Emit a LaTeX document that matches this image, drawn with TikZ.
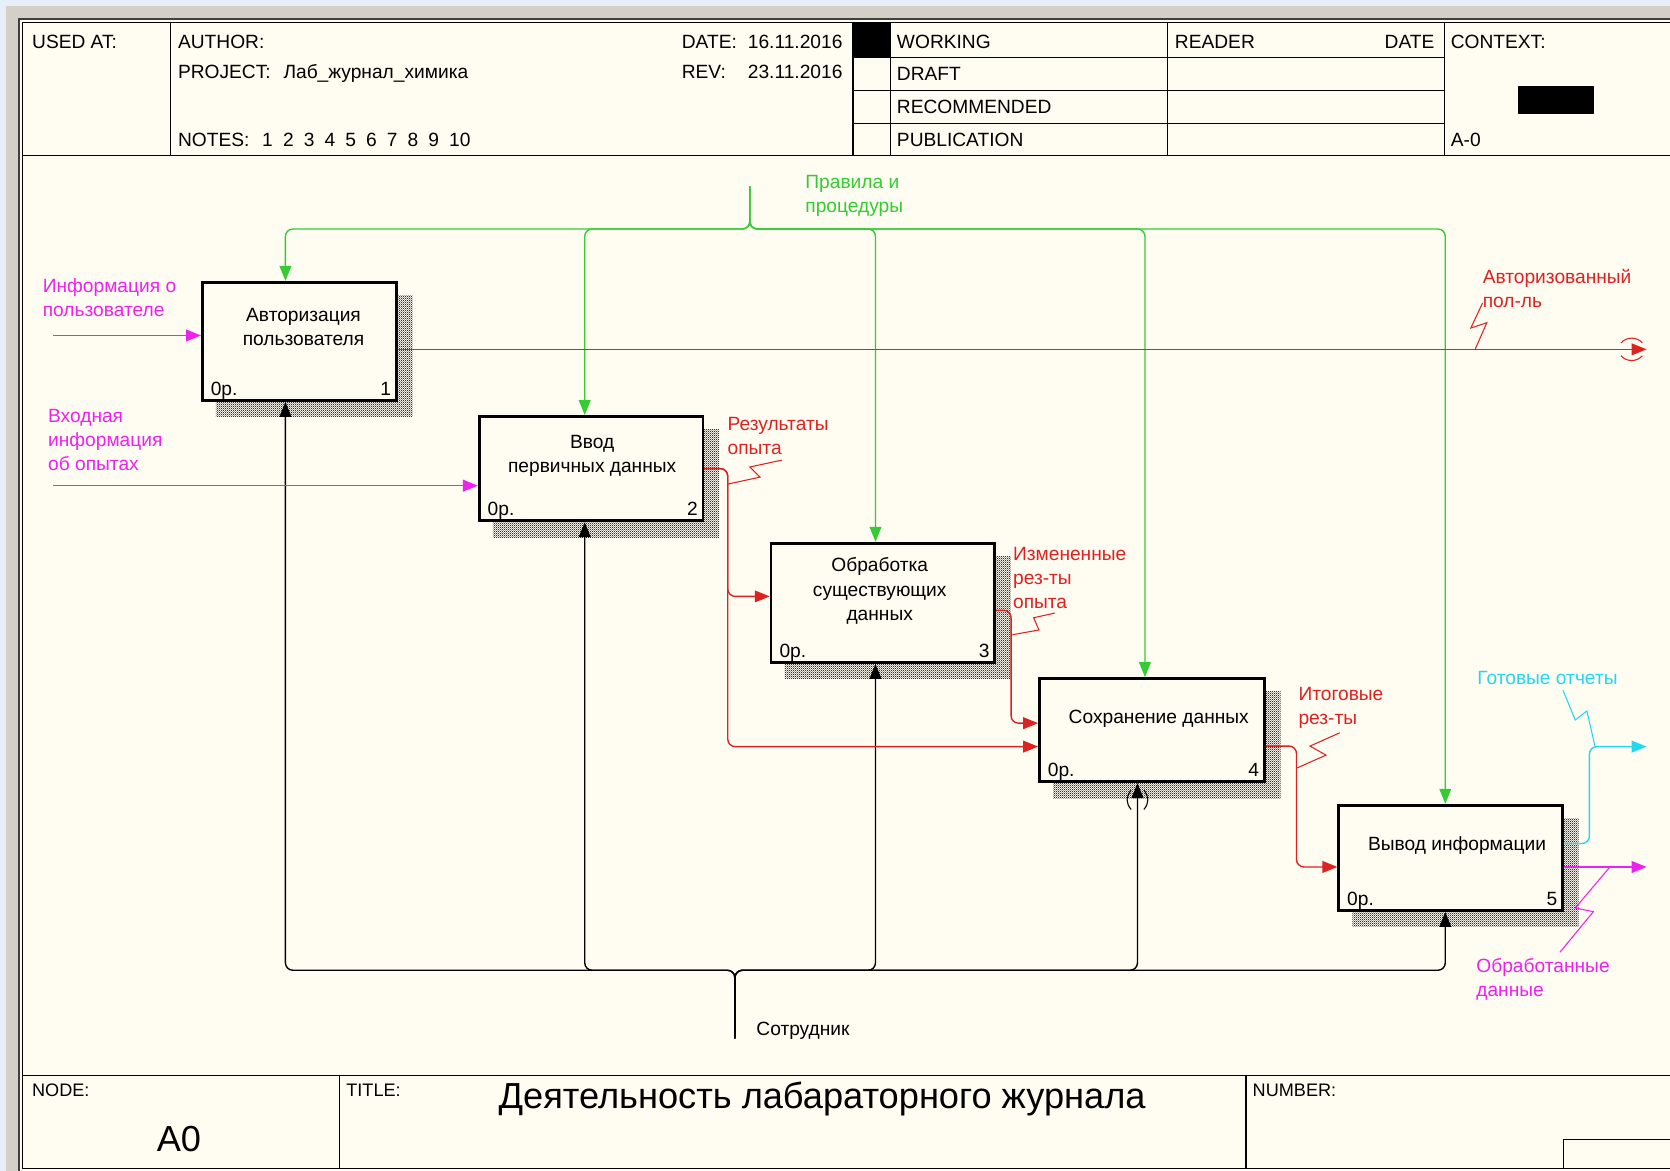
\documentclass[tikz,border=0pt]{standalone}
\usepackage{fontspec}
\setmainfont{Liberation Sans}
\usepackage{tikz}
\usetikzlibrary{arrows.meta, positioning, backgrounds, patterns}
\definecolor{paper}{HTML}{FFFCF2}
\definecolor{skyback}{HTML}{E6EEF8}
\definecolor{winframe}{HTML}{D4D0C8}
\definecolor{idefgreen}{HTML}{33CC33}
\definecolor{idefred}{HTML}{DD2222}
\definecolor{idefmagenta}{HTML}{EE22EE}
\definecolor{idefcyan}{HTML}{22D8EE}
\pgfdeclarepatternformonly{finecheck}{\pgfpointorigin}{\pgfqpoint{2pt}{2pt}}{\pgfqpoint{2pt}{2pt}}{%
  \pgfpathrectangle{\pgfpointorigin}{\pgfqpoint{1pt}{1pt}}%
  \pgfpathrectangle{\pgfqpoint{1pt}{1pt}}{\pgfqpoint{1pt}{1pt}}%
  \pgfusepath{fill}}

\begin{document}
\begin{tikzpicture}[
  x=1pt, y=-1pt,
  every node/.style={font=\fontsize{18}{22.5}\selectfont, inner sep=0pt},
  func/.style={draw, line width=2.6pt, fill=paper},
  functext/.style={align=center, font=\fontsize{18}{23}\selectfont},
  hdr/.style={anchor=base west},
  cost/.style={anchor=base west},
  fnum/.style={anchor=base east},
  arrowlabel/.style={anchor=north west, align=left, text=#1},
  flow/.style={
    -{Triangle[length=14pt, width=11pt]}, line width=1.3pt,
    color=#1, rounded corners=7pt
  },
  squiggle/.style={line width=1pt, color=#1},
  frameline/.style={line width=1.3pt}
]
\useasboundingbox (0,0) rectangle (1568,1099);

% window and sheet
\begin{scope}[on background layer]
  \fill[skyback] (0,0) rectangle (1568,1099);
  \fill[winframe] (6,6) rectangle (1568,1099);
  \fill[paper] (19,19) rectangle (1568,1099);
  \draw[line width=2pt, black!75] (18,1099) -- (18,18) -- (1568,18);
\end{scope}

% header
\draw[frameline] (21,21) -- (1570,21);
\draw[frameline] (21,21) -- (21,1097) -- (1570,1097);
\draw[frameline] (21,146) -- (1570,146);
\foreach \xx in {160,801,836,1096,1356}
  \draw[frameline] (\xx,21) -- (\xx,146);
\foreach \yy in {54,85,116}
  \draw[frameline] (801,\yy) -- (1356,\yy);
\fill (801,21) rectangle (836,54);
\fill (1425,81) rectangle (1497,107);

\node[hdr] at (30,45.5) {USED AT:};
\node[hdr] at (167,45.5) {AUTHOR:};
\node[hdr] at (167,73.5) {PROJECT:\hspace{12pt}Лаб\_журнал\_химика};
\node[hdr] at (167,137.5) {NOTES:\hspace{12pt}1\hspace{9.5pt}2\hspace{9.5pt}3\hspace{9.5pt}4\hspace{9.5pt}5\hspace{9.5pt}6\hspace{9.5pt}7\hspace{9.5pt}8\hspace{9.5pt}9\hspace{9.5pt}10};
\node[hdr] at (640,45.5) {\makebox[62pt][l]{DATE:}16.11.2016};
\node[hdr] at (640,73.5) {\makebox[62pt][l]{REV:}23.11.2016};
\node[hdr] at (842,45.5) {WORKING};
\node[hdr] at (842,75.5) {DRAFT};
\node[hdr] at (842,106.5) {RECOMMENDED};
\node[hdr] at (842,137.5) {PUBLICATION};
\node[hdr] at (1103,45.5) {READER};
\node[anchor=base east] at (1347,45.5) {DATE};
\node[hdr] at (1362,45.5) {CONTEXT:};
\node[hdr] at (1362,137.5) {A-0};

% footer
\draw[frameline] (21,1010) -- (1570,1010);
\draw[frameline] (319,1010) -- (319,1097);
\draw[frameline] (1170,1010) -- (1170,1097);
\draw[frameline] (1468,1097) -- (1468,1070) -- (1570,1070);
\node[hdr, font=\fontsize{17}{20}\selectfont] at (30,1029.5) {NODE:};
\node[hdr, font=\fontsize{17}{20}\selectfont] at (325,1029.5) {TITLE:};
\node[hdr, font=\fontsize{17}{20}\selectfont] at (1176,1029.5) {NUMBER:};
\node[hdr, font=\fontsize{34}{40}\selectfont] at (147,1081) {A0};
\node[hdr, font=\fontsize{34}{40}\selectfont] at (468,1041) {Деятельность лабараторного журнала};

% activity boxes
\node[func, minimum width=182pt, minimum height=111pt] (b1) at (281,320.5) {};
\node[func, minimum width=210pt, minimum height=98pt] (b2) at (555,440) {};
\node[func, minimum width=210pt, minimum height=112pt] (b3) at (829,566) {};
\node[func, minimum width=211pt, minimum height=97pt] (b4) at (1081.5,685.5) {};
\node[func, minimum width=210pt, minimum height=99pt] (b5) at (1362,805.5) {};

\node[functext, below=25.5pt of b1.north, xshift=4pt] {Авторизация\\пользователя};
\node[functext, below=18.5pt of b2.north, xshift=1pt] {Ввод\\первичных данных};
\node[functext, below=14.5pt of b3.north, xshift=-3pt] {Обработка\\существующих\\данных};
\node[functext, below=30.5pt of b4.north, xshift=6.5pt] {Сохранение данных};
\node[functext, below=30.5pt of b5.north, xshift=6pt] {Вывод информации};

\foreach \bx/\n in {b1/1,b2/2,b3/3,b4/4,b5/5} {
  \node[cost] at ([shift={(9pt,6pt)}]\bx.south west) {0р.};
  \node[fnum] at ([shift={(-6pt,6pt)}]\bx.south east) {\n};
}

% shadows
\begin{scope}[on background layer]
  \foreach \bx in {b1,b2,b3,b4,b5}
    \fill[pattern=finecheck, pattern color=black!80]
      ([shift={(14pt,-14pt)}]\bx.south west) rectangle ([shift={(14pt,-14pt)}]\bx.north east);
\end{scope}

% arrow ends
\coordinate (rules) at (704,175);
\coordinate (rulesbar) at (704,215);
\coordinate (staff) at (690,975);
\coordinate (staffbar) at (690,911);
\coordinate (userin) at (50,315);
\coordinate (expin) at (50,456);
\coordinate (authout) at (1546,328);
\coordinate (repout) at (1546,701);
\coordinate (procout) at (1546,814);

% controls
\draw[flow=idefgreen] (rules) -- (rulesbar) -| ([xshift=-13pt]b1.north);
\draw[flow=idefgreen] (rules) -- (rulesbar) -| ([xshift=-6pt]b2.north);
\draw[flow=idefgreen] (rules) -- (rulesbar) -| ([xshift=-7pt]b3.north);
\draw[flow=idefgreen] (rules) -- (rulesbar) -| ([xshift=-6.5pt]b4.north);
\draw[flow=idefgreen] (rules) -- (rulesbar) -| ([xshift=-5pt]b5.north);

% mechanisms
\draw[flow=black] (staff) -- (staffbar) -| ([xshift=-13pt]b1.south);
\draw[flow=black] (staff) -- (staffbar) -| ([xshift=-6pt]b2.south);
\draw[flow=black] (staff) -- (staffbar) -| ([xshift=-7pt]b3.south);
\draw[flow=black] (staff) -- (staffbar) -| ([xshift=-13.5pt]b4.south);
\draw[flow=black] (staff) -- (staffbar) -| ([xshift=-5pt]b5.south);
\draw[line width=1pt] (1062,742) .. controls (1057,748) and (1057,754) .. (1062,760);
\draw[line width=1pt] (1074,742) .. controls (1079,748) and (1079,754) .. (1074,760);

% inputs and outputs
\draw[flow=idefmagenta] (userin) -- ([yshift=5.5pt]b1.west);
\draw[flow=idefmagenta] (expin) -- ([yshift=-16pt]b2.west);
\draw[flow=idefred] ([yshift=-7.5pt]b1.east) -- (authout);
\draw[idefred, line width=1pt] (1522,322) .. controls (1527,316) and (1537,316) .. (1542,322);
\draw[idefred, line width=1pt] (1522,334) .. controls (1527,340) and (1537,340) .. (1542,334);
\draw[flow=idefred] (b2.east) -- ++(22,0) |- ([yshift=6pt]b3.west);
\draw[flow=idefred] (b2.east) -- ++(22,0) |- ([yshift=-15.5pt]b4.west);
\draw[flow=idefred] ([yshift=-7pt]b3.east) -- ++(14,0) |- ([yshift=6.5pt]b4.west);
\draw[flow=idefred] ([yshift=-15pt]b4.east) -- ++(29,0) |- ([yshift=-8.5pt]b5.west);
\draw[flow=idefcyan] ([yshift=13.5pt]b5.east) -- ++(24,0) |- (repout);
\draw[flow=idefmagenta] ([yshift=-8.5pt]b5.east) -- (procout);

% arrow labels
\node[arrowlabel=idefgreen] at (756,164.5) {Правила и\\процедуры};
\node[arrowlabel=idefmagenta] at (40,261.5) {Информация о\\пользователе};
\node[arrowlabel=idefmagenta] at (45,384.5) {Входная\\информация\\об опытах};
\node[arrowlabel=idefred] at (1392,252.5) {Авторизованный\\пол-ль};
\node[arrowlabel=idefred] at (683,391.5) {Результаты\\опыта};
\node[arrowlabel=idefred] at (951,513.5) {Измененные\\рез-ты\\опыта};
\node[arrowlabel=idefred] at (1219,645.5) {Итоговые\\рез-ты};
\node[arrowlabel=idefcyan] at (1387,630.5) {Готовые отчеты};
\node[arrowlabel=idefmagenta] at (1386,899.5) {Обработанные\\данные};
\node[arrowlabel=black] at (710,959.5) {Сотрудник};

% squiggles
\draw[squiggle=idefred] (1392,284.5) -- (1381,308) -- (1396,303) -- (1385,328);
\draw[squiggle=idefred] (734,432) -- (704,438.5) -- (713.5,448) -- (683.5,454.5);
\draw[squiggle=idefred] (990.5,575.6) -- (970.5,580) -- (975.5,591.5) -- (950.5,596);
\draw[squiggle=idefred] (1258,688) -- (1230,700.5) -- (1245,709) -- (1218,721);
\draw[squiggle=idefcyan] (1467.5,648) -- (1479,676) -- (1490,667.5) -- (1497.5,700.5);
\draw[squiggle=idefmagenta] (1511.6,814) -- (1479,852.5) -- (1496,856) -- (1464.7,894);

\end{tikzpicture}
\end{document}
